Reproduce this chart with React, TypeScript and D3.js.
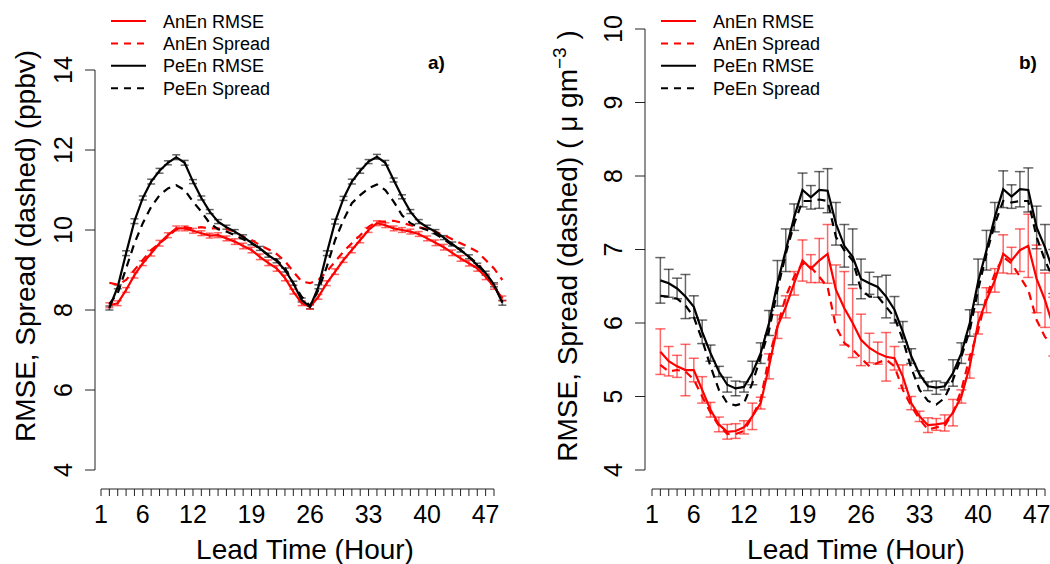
import React from "react";
import * as d3 from "d3";

const hours = [2,3,4,5,6,7,8,9,10,11,12,13,14,15,16,17,18,19,20,21,22,23,24,25,26,27,28,29,30,31,32,33,34,35,36,37,38,39,40,41,42,43,44,45,46,47,48,49];
const tickHours = [1,2,3,4,5,6,7,8,9,10,11,12,13,14,15,16,17,18,19,20,21,22,23,24,25,26,27,28,29,30,31,32,33,34,35,36,37,38,39,40,41,42,43,44,45,46,47,48];
const tickLabels = [1, 6, 12, 19, 26, 33, 40, 47];

// Panel a (ppbv)
const aPeEnRmse = [8.05,8.58,9.42,10.22,10.8,11.21,11.48,11.68,11.82,11.68,11.21,10.8,10.46,10.21,10.07,9.96,9.83,9.68,9.54,9.37,9.23,9.0,8.67,8.25,8.08,8.58,9.42,10.21,10.79,11.21,11.48,11.71,11.83,11.68,11.25,10.83,10.46,10.21,10.07,9.96,9.81,9.65,9.5,9.33,9.12,8.92,8.63,8.18];
const aPeEnSpread = [8.15,8.42,9.04,9.67,10.17,10.58,10.87,11.04,11.12,11.0,10.71,10.46,10.17,10.02,9.96,9.87,9.77,9.67,9.54,9.37,9.25,9.05,8.67,8.33,8.1,8.5,9.08,9.75,10.25,10.67,10.87,11.04,11.14,11.0,10.71,10.37,10.17,10.07,10.0,9.9,9.77,9.62,9.5,9.33,9.17,8.92,8.63,8.2];
const aAnEnRmse = [8.12,8.17,8.5,8.87,9.17,9.42,9.67,9.87,10.04,10.04,9.98,9.92,9.86,9.87,9.79,9.71,9.6,9.5,9.33,9.18,9.04,8.8,8.46,8.17,8.08,8.33,8.67,8.96,9.25,9.5,9.75,10.0,10.17,10.12,10.04,10.0,9.96,9.9,9.79,9.68,9.57,9.43,9.29,9.17,9.04,8.83,8.58,8.29];
const aAnEnSpread = [8.68,8.63,8.75,9.0,9.25,9.5,9.67,9.83,10.02,10.07,10.04,10.07,10.04,10.04,10.02,9.96,9.83,9.75,9.62,9.52,9.4,9.22,8.96,8.71,8.67,8.75,8.96,9.21,9.46,9.67,9.87,10.08,10.21,10.21,10.23,10.18,10.12,10.07,10.02,9.96,9.87,9.77,9.67,9.57,9.46,9.25,9.04,8.75];
const aPeEnErr = [0.05,0.05,0.06,0.06,0.05,0.06,0.06,0.05,0.06,0.06,0.05,0.05,0.05,0.05,0.05,0.05,0.05,0.05,0.05,0.05,0.05,0.05,0.05,0.05,0.05,0.05,0.06,0.06,0.05,0.06,0.06,0.05,0.06,0.06,0.05,0.05,0.05,0.05,0.05,0.05,0.05,0.05,0.05,0.05,0.05,0.05,0.05,0.06];
const aAnEnErr = [0.06,0.06,0.06,0.07,0.06,0.07,0.07,0.06,0.06,0.06,0.06,0.06,0.06,0.06,0.06,0.07,0.07,0.07,0.07,0.07,0.07,0.07,0.06,0.06,0.06,0.06,0.06,0.07,0.06,0.07,0.07,0.06,0.06,0.06,0.06,0.06,0.06,0.06,0.06,0.07,0.07,0.07,0.07,0.07,0.07,0.07,0.06,0.06];

// Panel b (ug m-3)
const bPeEnRmse = [6.58,6.54,6.47,6.36,6.22,5.88,5.59,5.34,5.16,5.11,5.13,5.32,5.59,6.0,6.54,6.99,7.44,7.81,7.71,7.81,7.8,7.35,7.05,6.9,6.6,6.54,6.49,6.36,6.18,5.88,5.55,5.3,5.14,5.12,5.14,5.32,5.59,6.0,6.56,6.99,7.44,7.82,7.72,7.82,7.81,7.3,7.03,6.7];
const bPeEnSpread = [6.37,6.36,6.33,6.24,6.08,5.77,5.41,5.09,4.91,4.88,4.91,5.18,5.54,5.9,6.45,6.94,7.35,7.66,7.66,7.68,7.66,7.17,6.99,6.85,6.45,6.36,6.36,6.22,6.08,5.77,5.39,5.09,4.94,4.89,4.98,5.23,5.54,5.9,6.45,6.94,7.35,7.66,7.64,7.66,7.66,7.17,6.85,6.6];
const bAnEnRmse = [5.61,5.48,5.41,5.36,5.36,5.09,4.82,4.62,4.52,4.53,4.58,4.73,4.91,5.41,5.95,6.22,6.54,6.85,6.74,6.85,6.94,6.45,6.2,6.0,5.77,5.66,5.59,5.54,5.52,5.27,4.91,4.73,4.61,4.62,4.64,4.78,5.0,5.41,6.0,6.31,6.58,6.94,6.85,6.99,7.05,6.6,6.31,5.95];
const bAnEnSpread = [5.43,5.34,5.36,5.34,5.23,5.0,4.78,4.6,4.49,4.49,4.53,4.73,4.96,5.54,5.95,6.36,6.63,6.81,6.76,6.63,6.49,5.95,5.73,5.64,5.52,5.41,5.46,5.5,5.41,5.09,4.87,4.69,4.55,4.58,4.6,4.78,5.09,5.54,5.9,6.36,6.67,6.9,6.81,6.63,6.45,6.04,5.81,5.7];
const bPeEnErr = [0.31,0.19,0.14,0.3,0.15,0.16,0.11,0.07,0.1,0.1,0.07,0.16,0.14,0.17,0.31,0.29,0.18,0.23,0.16,0.25,0.3,0.29,0.29,0.38,0.27,0.15,0.14,0.29,0.18,0.14,0.1,0.05,0.06,0.09,0.05,0.18,0.14,0.18,0.31,0.27,0.2,0.25,0.16,0.24,0.3,0.29,0.31,0.3];
const bAnEnErr = [0.31,0.2,0.15,0.35,0.16,0.18,0.1,0.1,0.1,0.1,0.09,0.18,0.08,0.17,0.16,0.15,0.16,0.28,0.19,0.3,0.4,0.34,0.5,0.47,0.35,0.2,0.15,0.33,0.16,0.16,0.09,0.07,0.1,0.08,0.11,0.18,0.09,0.16,0.15,0.17,0.16,0.26,0.18,0.29,0.43,0.46,0.37,0.4];

const aYTicks = [4, 6, 8, 10, 12, 14];
const bYTicks = [4, 5, 6, 7, 8, 9, 10];

const legendItems = [
  { label: "AnEn RMSE", color: "#ff0000", dash: false },
  { label: "AnEn Spread", color: "#ff0000", dash: true },
  { label: "PeEn RMSE", color: "#000000", dash: false },
  { label: "PeEn Spread", color: "#000000", dash: true },
];

const FONT = "'Liberation Sans', Arial, Helvetica, sans-serif";

type PanelProps = {
  xRange: [number, number];
  yDomain: [number, number];
  yRange: [number, number];
  yTicks: number[];
  axisX: number;
  yTickLabelX: number;
  yTitleX: number;
  xTitleX: number;
  yTitle: React.ReactNode;
  legendX: number;
  tag: string;
  tagX: number;
  anRmse: number[];
  anSpread: number[];
  peRmse: number[];
  peSpread: number[];
  anErr: number[];
  peErr: number[];
  capHalf: number;
};

function Panel(p: PanelProps) {
  const x = d3.scaleLinear().domain([1, 48]).range(p.xRange);
  const y = d3.scaleLinear().domain(p.yDomain).range(p.yRange);
  const line = d3
    .line<number>()
    .x((_, i) => x(hours[i]))
    .y((v) => y(v));
  const axisY = 489;
  const bars = (vals: number[], errs: number[], color: string, key: string) =>
    vals.map((v, i) => {
      const cx = x(hours[i]);
      const y1 = y(v - errs[i]);
      const y2 = y(v + errs[i]);
      return (
        <g key={key + i} stroke={color} strokeWidth={1.5}>
          <line x1={cx} x2={cx} y1={y1} y2={y2} />
          <line x1={cx - p.capHalf} x2={cx + p.capHalf} y1={y1} y2={y1} />
          <line x1={cx - p.capHalf} x2={cx + p.capHalf} y1={y2} y2={y2} />
        </g>
      );
    });
  return (
    <g fontFamily={FONT}>
      {/* y axis */}
      <line x1={p.axisX} x2={p.axisX} y1={y(p.yTicks[0])} y2={y(p.yTicks[p.yTicks.length - 1])} stroke="#222" strokeWidth={1} />
      {p.yTicks.map((t) => (
        <g key={"yt" + t}>
          <line x1={p.axisX - 10} x2={p.axisX} y1={y(t)} y2={y(t)} stroke="#222" strokeWidth={1} />
          <text
            x={p.yTickLabelX}
            y={y(t)}
            transform={`rotate(-90, ${p.yTickLabelX}, ${y(t)})`}
            textAnchor="middle"
            fontSize={25}
            fill="#000"
          >
            {t}
          </text>
        </g>
      ))}
      {/* x axis */}
      <line x1={x(1)} x2={x(48)} y1={axisY} y2={axisY} stroke="#222" strokeWidth={1} />
      {tickHours.map((h) => (
        <line key={"xt" + h} x1={x(h)} x2={x(h)} y1={axisY} y2={axisY + 7} stroke="#222" strokeWidth={1} />
      ))}
      {tickLabels.map((h) => (
        <text key={"xl" + h} x={x(h)} y={523} textAnchor="middle" fontSize={25} fill="#000">
          {h}
        </text>
      ))}
      <text x={p.xTitleX} y={559} textAnchor="middle" fontSize={28} fill="#000">
        Lead Time (Hour)
      </text>
      <text
        x={p.yTitleX}
        y={246}
        transform={`rotate(-90, ${p.yTitleX}, 246)`}
        textAnchor="middle"
        fontSize={28}
        fill="#000"
      >
        {p.yTitle}
      </text>
      {/* error bars */}
      {bars(p.peRmse, p.peErr, "rgba(0,0,0,0.6)", "pb")}
      {bars(p.anRmse, p.anErr, "rgba(255,0,0,0.6)", "ab")}
      {/* lines */}
      <path d={line(p.anSpread) || ""} fill="none" stroke="#ff0000" strokeWidth={2.2} strokeDasharray="8,6" />
      <path d={line(p.peSpread) || ""} fill="none" stroke="#000" strokeWidth={2.2} strokeDasharray="8,6" />
      <path d={line(p.anRmse) || ""} fill="none" stroke="#ff0000" strokeWidth={2.2} />
      <path d={line(p.peRmse) || ""} fill="none" stroke="#000" strokeWidth={2.2} />
      {/* legend */}
      {legendItems.map((it, i) => {
        const ry = 21 + i * 22.4;
        return (
          <g key={"lg" + i}>
            <line
              x1={p.legendX}
              x2={p.legendX + 35}
              y1={ry}
              y2={ry}
              stroke={it.color}
              strokeWidth={2}
              strokeDasharray={it.dash ? "7,6" : undefined}
            />
            <text x={p.legendX + 52} y={ry + 6.5} fontSize={18} fill="#000">
              {it.label}
            </text>
          </g>
        );
      })}
      <text x={p.tagX} y={69} fontSize={19} fontWeight="bold" fill="#000">
        {p.tag}
      </text>
    </g>
  );
}

export default function App() {
  return (
    <svg
      width={1050}
      height={564}
      viewBox="0 0 1050 564"
      style={{ position: "absolute", left: 0, top: 0, background: "#fff" }}
    >
      <rect width={1050} height={564} fill="#fff" />
      <Panel
        xRange={[101, 494]}
        yDomain={[4, 14]}
        yRange={[470, 70]}
        yTicks={aYTicks}
        axisX={95}
        yTickLabelX={72}
        yTitleX={35}
        xTitleX={305}
        yTitle={"RMSE, Spread (dashed) (ppbv)"}
        legendX={111}
        tag="a)"
        tagX={428}
        anRmse={aAnEnRmse}
        anSpread={aAnEnSpread}
        peRmse={aPeEnRmse}
        peSpread={aPeEnSpread}
        anErr={aAnEnErr}
        peErr={aPeEnErr}
        capHalf={4}
      />
      <Panel
        xRange={[652, 1045]}
        yDomain={[4, 10]}
        yRange={[470, 29]}
        yTicks={bYTicks}
        axisX={645}
        yTickLabelX={622}
        yTitleX={577}
        xTitleX={856}
        yTitle={
          <>
            <tspan>RMSE, Spread (dashed) ( μ gm</tspan>
            <tspan fontSize={19} dy={-11}>−3</tspan>
            <tspan dy={11}> )</tspan>
          </>
        }
        legendX={661}
        tag="b)"
        tagX={1019}
        anRmse={bAnEnRmse}
        anSpread={bAnEnSpread}
        peRmse={bPeEnRmse}
        peSpread={bPeEnSpread}
        anErr={bAnEnErr}
        peErr={bPeEnErr}
        capHalf={5}
      />
    </svg>
  );
}
